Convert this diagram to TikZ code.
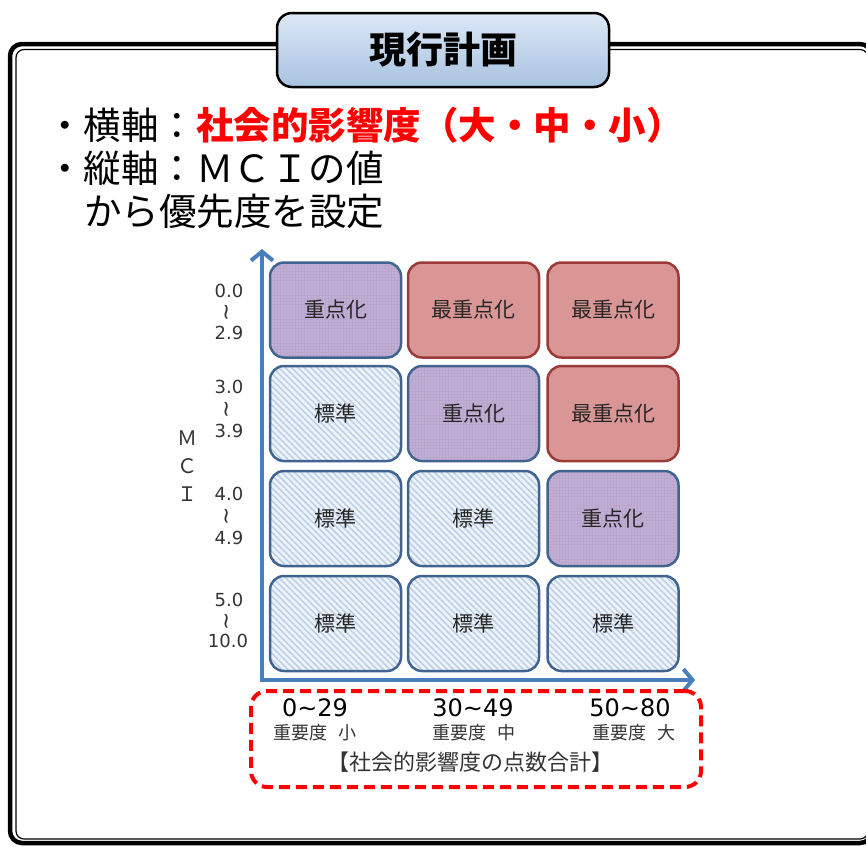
\documentclass[tikz,border=0pt]{standalone}
\usepackage{fontspec}
\setmainfont{DejaVu Sans}
\newfontfamily\jp{Noto Sans CJK JP}
\usetikzlibrary{arrows.meta,patterns.meta}
\definecolor{axisblue}{HTML}{4A7EBB}
\definecolor{cellblue}{HTML}{40648F}
\definecolor{redb}{HTML}{9B3A38}
\definecolor{redf}{HTML}{D99694}
\definecolor{purp}{HTML}{B9A6CE}
\definecolor{dotc}{HTML}{DDD3E8}
\definecolor{hatchbase}{HTML}{EEF3FA}
\definecolor{hatch}{HTML}{BDD0E8}
\definecolor{celltext}{HTML}{262626}
\definecolor{labgray}{HTML}{333333}
\definecolor{titletop}{HTML}{DCE8F6}
\definecolor{titlebot}{HTML}{A8C2E0}
\definecolor{hired}{HTML}{FF0000}
\begin{document}
\begin{tikzpicture}[x=1pt,y=-1pt,
  cell/.style={minimum width=131pt,minimum height=95pt,rounded corners=14pt,line width=2.5pt,
    font=\jp\fontsize{21}{22}\selectfont,text=celltext,inner sep=0pt},
  stdcell/.style={cell,draw=cellblue,pattern={Lines[angle=-45,distance=4.5pt,line width=1.6pt]},
    pattern color=hatch,preaction={fill=hatchbase}},
  pricell/.style={cell,draw=cellblue,pattern={Dots[distance=3pt,radius=0.7pt]},
    pattern color=dotc,preaction={fill=purp}},
  maxcell/.style={cell,draw=redb,fill=redf},
  ylab/.style={font=\fontsize{18}{18}\selectfont,text=labgray,inner sep=0pt},
  wave/.style={font=\fontsize{22}{22}\selectfont,text=labgray,inner sep=0pt,rotate=90},
  xlab/.style={font=\fontsize{24}{24}\selectfont,text=black,inner sep=0pt},
  implab/.style={font=\jp\fontsize{18}{18}\selectfont,text=labgray,inner sep=0pt},
  bullet/.style={font=\jp\fontsize{37.5}{37.5}\selectfont,anchor=west,inner sep=0pt},
  frameline/.style={line width=4.5pt,rounded corners=12pt},
  frameinner/.style={line width=1.2pt,rounded corners=8pt}]
\useasboundingbox (0,0) rectangle (866,846);
\clip (0,0) rectangle (866,846);
% frame
\draw[frameline] (10,44) rectangle (872,843);
\draw[frameinner] (16,49.5) rectangle (868,839);
% title
\node[draw=black,line width=2.5pt,rounded corners=15pt,top color=titletop,bottom color=titlebot,
  minimum width=332pt,minimum height=74pt,inner sep=0pt,
  font=\jp\bfseries\fontsize{37}{37}\selectfont] (title) at (443,50) {現行計画};
% bullets
\node[bullet] (b1) at (46,125) {・横軸：\textcolor{hired}{\bfseries 社会的影響度（大・中・小）}};
\node[bullet] (b2) at (46,168) {・縦軸：ＭＣＩの値};
\node[bullet] (b3) at (84,211) {から優先度を設定};
% cells
\node[pricell] (c11) at (335.5,310) {重点化};
\node[maxcell] (c12) at (473.5,310) {最重点化};
\node[maxcell] (c13) at (613,310) {最重点化};
\node[stdcell] (c21) at (335.5,413.5) {標準};
\node[pricell] (c22) at (473.5,413.5) {重点化};
\node[maxcell] (c23) at (613,413.5) {最重点化};
\node[stdcell] (c31) at (335.5,518.5) {標準};
\node[stdcell] (c32) at (473.5,518.5) {標準};
\node[pricell] (c33) at (613,518.5) {重点化};
\node[stdcell] (c41) at (335.5,623.5) {標準};
\node[stdcell] (c42) at (473.5,623.5) {標準};
\node[stdcell] (c43) at (613,623.5) {標準};
% axes
\coordinate (ytop) at (262,249);
\coordinate (origin) at (262,680);
\coordinate (xend) at (695,680);
\draw[axisblue,line width=4pt,line join=miter,
  {Straight Barb[length=9pt,width=22pt]}-{Straight Barb[length=9pt,width=22pt]}]
  (ytop) -- (origin) -- (xend);
% y labels
\node[ylab] (y1a) at (229,291) {0.0};
\node[wave] (y1b) at (229,312) {\textasciitilde};
\node[ylab] (y1c) at (229,333) {2.9};
\node[ylab] (y2a) at (229,387) {3.0};
\node[wave] (y2b) at (229,409) {\textasciitilde};
\node[ylab] (y2c) at (229,431) {3.9};
\node[ylab] (y3a) at (229,494) {4.0};
\node[wave] (y3b) at (229,516) {\textasciitilde};
\node[ylab] (y3c) at (229,538) {4.9};
\node[ylab] (y4a) at (229,600) {5.0};
\node[wave] (y4b) at (229,621) {\textasciitilde};
\node[ylab] (y4c) at (228,641) {10.0};
% MCI
\node[implab,font=\jp\fontsize{20}{20}\selectfont] (m) at (187,438) {Ｍ};
\node[implab,font=\jp\fontsize{20}{20}\selectfont] (c) at (187,466) {Ｃ};
\node[implab,font=\jp\fontsize{20}{20}\selectfont] (i) at (187,494) {Ｉ};
% x labels
\node[draw=hired,line width=4pt,dash pattern=on 11pt off 6pt,rounded corners=16pt,
  minimum width=450pt,minimum height=96pt] (xbox) at (476,739) {};
\node[xlab] (x1) at (315,708) {0\textasciitilde29};
\node[xlab] (x2) at (473,708) {30\textasciitilde49};
\node[xlab] (x3) at (630,708) {50\textasciitilde80};
\node[implab] (i1) at (315,733) {重要度\hspace{12pt}小};
\node[implab] (i2) at (474,733) {重要度\hspace{12pt}中};
\node[implab] (i3) at (634,733) {重要度\hspace{12pt}大};
\node[implab,font=\jp\fontsize{22}{22}\selectfont] (xt) at (470,762) {【社会的影響度の点数合計】};
\end{tikzpicture}
\end{document}
